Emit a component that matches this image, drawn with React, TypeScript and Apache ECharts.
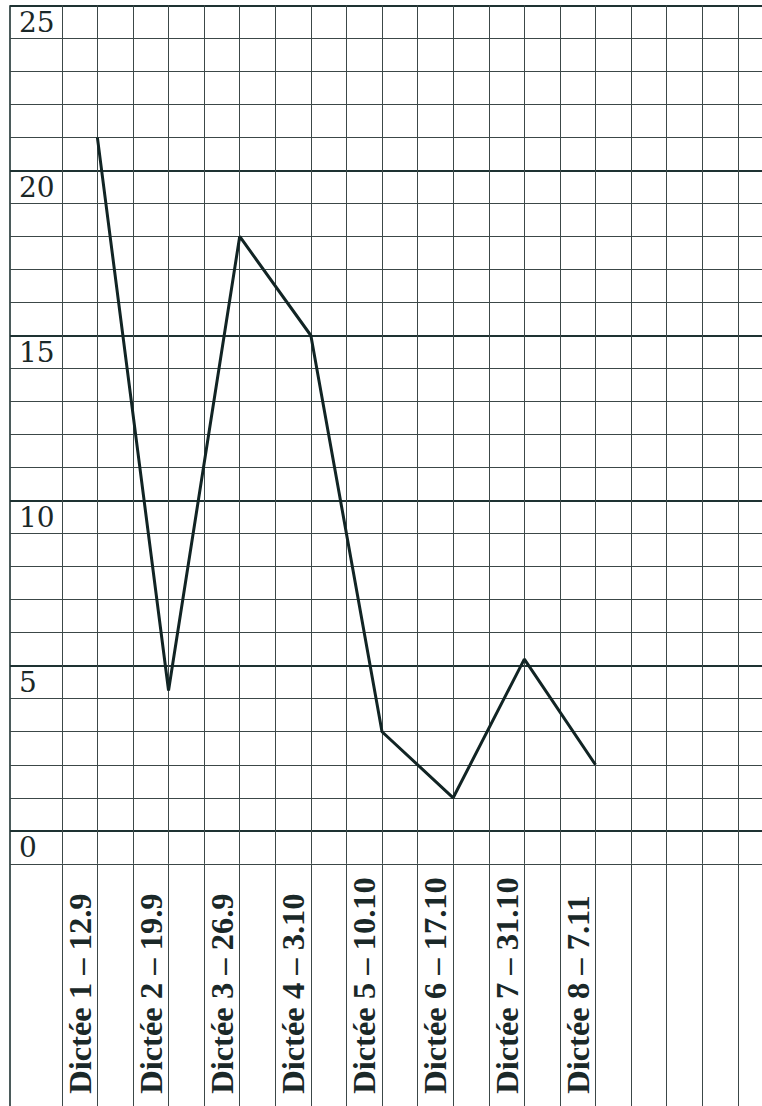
import React, { useEffect, useRef } from "react";
import * as echarts from "echarts";

const dictationLabels = [
  "Dictée 1 – 12.9",
  "Dictée 2 – 19.9",
  "Dictée 3 – 26.9",
  "Dictée 4 – 3.10",
  "Dictée 5 – 10.10",
  "Dictée 6 – 17.10",
  "Dictée 7 – 31.10",
  "Dictée 8 – 7.11",
];
const errorCounts = [21, 4.25, 18, 15, 3, 1, 5.2, 2];
const columnCount = 20;
const yMin = -1;
const yMax = 25;
const majorStep = 5;

const TEXT = "#1a2828";
const MINOR = "#3c4848";
const MAJOR = "#1e3232";

export default function App() {
  const ref = useRef<HTMLDivElement>(null);
  useEffect(() => {
    if (!ref.current) return;
    const chart = echarts.init(ref.current, undefined, { renderer: "svg" });

    const colW = 35.58;
    const unit = 33.02;
    const top = 5.3;
    const leftCol = 61.8;
    const gridW = columnCount * colW;
    const rowsH = (yMax - yMin) * unit;
    const majorH = yMax * unit;
    const lowerTop = top + rowsH;

    const columnLabels: string[] = Array(columnCount).fill("");
    dictationLabels.forEach((l, i) => {
      columnLabels[2 * i] = l;
    });
    const seriesData = errorCounts.map((v, i) => [2 * i + 1, v]);

    chart.setOption({
      animation: false,
      backgroundColor: "#ffffff",
      grid: [
        { left: 10, top, width: 800, height: rowsH },
        { left: 10, top, width: 800, height: majorH },
        { left: leftCol, top, width: gridW, height: rowsH },
        { left: leftCol, top: lowerTop, width: gridW, height: 250 },
      ],
      xAxis: [
        { gridIndex: 0, type: "value", min: 0, max: 1, show: false },
        { gridIndex: 1, type: "value", min: 0, max: 1, show: false },
        {
          gridIndex: 2,
          type: "value",
          min: 0,
          max: columnCount,
          interval: 1,
          axisLine: { show: false },
          axisTick: { show: false },
          axisLabel: { show: false },
          splitLine: { show: true, lineStyle: { color: MINOR, width: 1 } },
        },
        {
          gridIndex: 3,
          type: "category",
          data: columnLabels,
          boundaryGap: true,
          axisLine: { show: false },
          axisTick: { show: false },
          splitLine: { show: true, interval: 0, lineStyle: { color: MINOR, width: 1 } },
          axisLabel: {
            show: true,
            inside: true,
            interval: 0,
            rotate: 90,
            align: "left",
            verticalAlign: "middle",
            margin: 20,
            fontFamily: "'Liberation Serif', 'DejaVu Serif', serif",
            fontWeight: "bold",
            fontSize: 32.5,
            color: TEXT,
          },
        },
      ],
      yAxis: [
        {
          gridIndex: 0,
          type: "value",
          min: yMin,
          max: yMax,
          interval: 1,
          axisLine: { show: false },
          axisTick: { show: false },
          axisLabel: { show: false },
          splitLine: { show: true, lineStyle: { color: MINOR, width: 1 } },
        },
        {
          gridIndex: 1,
          type: "value",
          min: 0,
          max: yMax,
          interval: majorStep,
          axisLine: { show: false },
          axisTick: { show: false },
          splitLine: { show: true, lineStyle: { color: MAJOR, width: 2 } },
          axisLabel: {
            show: true,
            inside: true,
            margin: 9,
            align: "left",
            verticalAlign: "top",
            padding: [3, 0, 0, 0],
            fontFamily: "'DejaVu Serif', serif",
            fontSize: 28,
            color: TEXT,
          },
        },
        { gridIndex: 2, type: "value", min: yMin, max: yMax, show: false },
        { gridIndex: 3, type: "value", min: 0, max: 1, show: false },
      ],
      graphic: [
        {
          type: "line",
          shape: { x1: 10, y1: top, x2: 10, y2: 1120 },
          style: { stroke: MAJOR, lineWidth: 1.6 },
          silent: true,
        },
      ],
      series: [
        {
          type: "line",
          xAxisIndex: 2,
          yAxisIndex: 2,
          data: seriesData,
          showSymbol: false,
          symbol: "none",
          lineStyle: { color: "#112424", width: 3 },
        },
      ],
    });
    return () => chart.dispose();
  }, []);

  return (
    <div
      style={{
        position: "fixed",
        left: 0,
        top: 0,
        width: 762,
        height: 1106,
        overflow: "hidden",
        background: "#fff",
      }}
    >
      <div ref={ref} style={{ width: 830, height: 1120 }} />
    </div>
  );
}
